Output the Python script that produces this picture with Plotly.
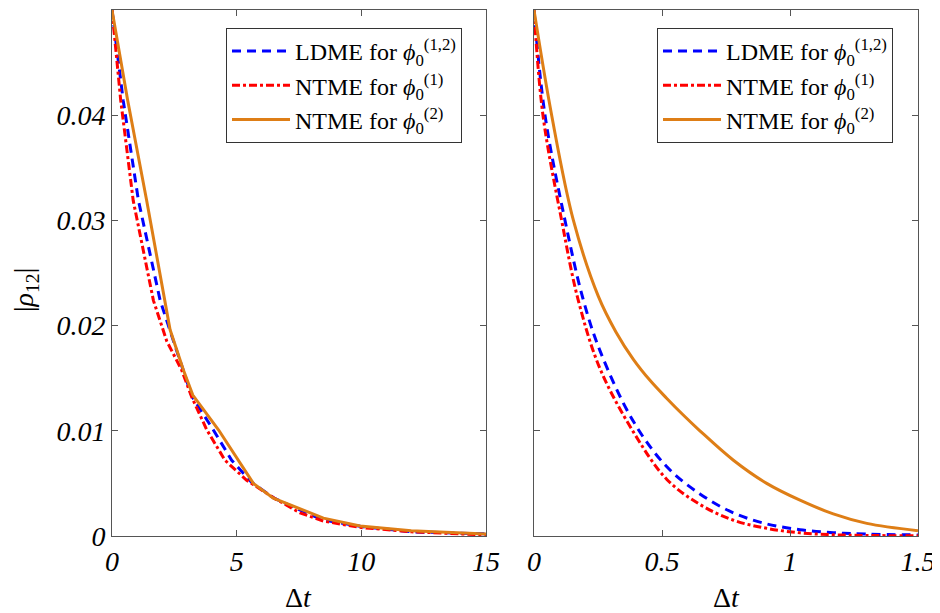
import plotly.graph_objects as go

# ---------------- data ----------------
# Left panel (coarse time step, Δt in 0..15)
left_ldme_x = [0, 0.45, 1.06, 1.93, 2.4, 2.85, 3.2, 4.06, 4.8, 5.6, 6.5, 7.6, 8.5, 10, 12, 15]
left_ldme_y = [0.05, 0.0414, 0.0319, 0.0224, 0.0190, 0.0158, 0.0133, 0.0101, 0.0072, 0.0051,
               0.0036, 0.0024, 0.0015, 0.0009, 0.0004, 0.0002]
left_ntme1_x = [0, 0.35, 0.85, 1.66, 2.2, 2.79, 3.2, 3.8, 4.53, 5.4, 6.5, 7.54, 8.5, 10, 12, 15]
left_ntme1_y = [0.05, 0.0414, 0.0319, 0.0224, 0.0185, 0.0158, 0.0132, 0.0101, 0.0072, 0.0053,
                0.0036, 0.0022, 0.0014, 0.0008, 0.0004, 0.0001]
left_ntme2_x = [0, 0.63, 1.39, 2.13, 2.33, 2.86, 3.24, 4.27, 5.07, 5.67, 6.47, 8.48, 9.95, 12, 15]
left_ntme2_y = [0.05, 0.0414, 0.0319, 0.0224, 0.0196, 0.0158, 0.0134, 0.0101, 0.0072, 0.0050,
                0.0036, 0.0017, 0.00095, 0.0005, 0.0002]

# Right panel (fine time step, Δt in 0..1.5)
right_ldme_x = [0, 0.043, 0.121, 0.193, 0.258, 0.388, 0.518, 0.648, 0.779, 0.909, 1.039,
                1.169, 1.3, 1.5]
right_ldme_y = [0.05, 0.040, 0.030, 0.0224, 0.0176, 0.0109, 0.0066, 0.0040, 0.0022, 0.00115,
                0.0006, 0.00032, 0.00018, 0.0001]
right_ntme1_x = [0, 0.035, 0.108, 0.173, 0.258, 0.388, 0.518, 0.648, 0.779, 0.909, 1.039,
                 1.169, 1.3, 1.5]
right_ntme1_y = [0.05, 0.040, 0.030, 0.0224, 0.0159, 0.0099, 0.0054, 0.0030, 0.0015, 0.00073,
                 0.0003, 0.00012, 0.00005, 0.00002]
right_ntme2_x = [0, 0.069, 0.154, 0.251, 0.32, 0.388, 0.453, 0.518, 0.583, 0.648, 0.779, 0.909,
                 1.039, 1.169, 1.3, 1.5]
right_ntme2_y = [0.05, 0.040, 0.0300, 0.0228, 0.0194, 0.0168, 0.0148, 0.0131, 0.0115, 0.0100,
                 0.0072, 0.0050, 0.0034, 0.0021, 0.0012, 0.0005]

names = ["LDME for <i>ϕ</i><sub>0</sub><sup>(1,2)</sup>",
         "NTME for <i>ϕ</i><sub>0</sub><sup>(1)</sup>",
         "NTME for <i>ϕ</i><sub>0</sub><sup>(2)</sup>"]

left_xticks = [0, 5, 10, 15]
right_xticks = [0, 0.5, 1, 1.5]
right_xtick_text = ["0", "0.5", "1", "1.5"]
yticks = [0, 0.01, 0.02, 0.03, 0.04, 0.05]
ytick_text = ["0", "0.01", "0.02", "0.03", "0.04", "0.05"]

# ---------------- styles ----------------
BLUE = "#0000FF"
RED = "#FF0000"
ORANGE = "#DE7E16"
SERIF = "Liberation Serif"
AXC = "#555555"

OFF = 8  # page body margin in the browser
W, H = 940 - OFF, 613 - OFF
def px_x(p): return (p - OFF) / W
def px_y(p): return 1 - (p - OFF) / H

styles = [dict(color=BLUE, width=3, dash="9px,6px"),
          dict(color=RED, width=3, dash="8px,3px,3px,3px"),
          dict(color=ORANGE, width=3)]

fig = go.Figure()
left = [(left_ldme_x, left_ldme_y), (left_ntme1_x, left_ntme1_y), (left_ntme2_x, left_ntme2_y)]
right = [(right_ldme_x, right_ldme_y), (right_ntme1_x, right_ntme1_y), (right_ntme2_x, right_ntme2_y)]
for (x, y), st, nm in zip(left, styles, names):
    fig.add_trace(go.Scatter(x=x, y=y, mode="lines", line=st, name=nm,
                             xaxis="x", yaxis="y", legend="legend"))
for (x, y), st, nm in zip(right, styles, names):
    fig.add_trace(go.Scatter(x=x, y=y, mode="lines", line=dict(shape="spline", smoothing=1.0, **st),
                             name=nm, xaxis="x2", yaxis="y2", legend="legend2"))

tickfont = dict(family=SERIF, size=28, color="black", style="italic")
common_axis = dict(showline=True, linecolor=AXC, linewidth=1, mirror="ticks",
                   ticks="inside", ticklen=6, tickcolor=AXC, showgrid=False,
                   zeroline=False, tickfont=tickfont, automargin=False)

ybot, ytop = px_y(536), px_y(10)
YMAX = 0.05 * 1.00001
legend_common = dict(font=dict(family=SERIF, size=24, color="black"),
                     bgcolor="white", bordercolor="#333333", borderwidth=1,
                     xanchor="left", yanchor="top", itemwidth=58,
                     tracegroupgap=0)

fig.update_layout(
    width=W, height=H,
    font=dict(family=SERIF, color="black"),
    margin=dict(l=0, r=0, t=0, b=0, autoexpand=False),
    paper_bgcolor="white", plot_bgcolor="white",
    xaxis=dict(domain=[px_x(112), px_x(486)], range=[0, 15.00001], tickvals=left_xticks,
               anchor="y", **common_axis),
    yaxis=dict(domain=[ybot, ytop], range=[0, YMAX], tickvals=yticks, ticktext=ytick_text,
               anchor="x", **common_axis),
    xaxis2=dict(domain=[px_x(534), px_x(918)], range=[0, 1.500001], tickvals=right_xticks,
                ticktext=right_xtick_text, anchor="y2", **common_axis),
    yaxis2=dict(domain=[ybot, ytop], range=[0, YMAX], tickvals=yticks, showticklabels=False,
                anchor="x2", **common_axis),
    legend=dict(x=px_x(226), y=px_y(28), **legend_common),
    legend2=dict(x=px_x(657), y=px_y(28), **legend_common),
    showlegend=True,
)

fig.add_annotation(text="|<i>ρ</i><sub>12</sub>|", x=px_x(25), y=px_y(290), xref="paper",
                   yref="paper", showarrow=False, textangle=-90, xanchor="center",
                   yanchor="middle", font=dict(family=SERIF, size=28, color="black"))
for cx in (298, 726):
    fig.add_annotation(text="Δ<i>t</i>", x=px_x(cx), y=px_y(597), xref="paper", yref="paper",
                       showarrow=False, xanchor="center", yanchor="middle",
                       font=dict(family=SERIF, size=28, color="black"))

fig.write_html("out.html")
